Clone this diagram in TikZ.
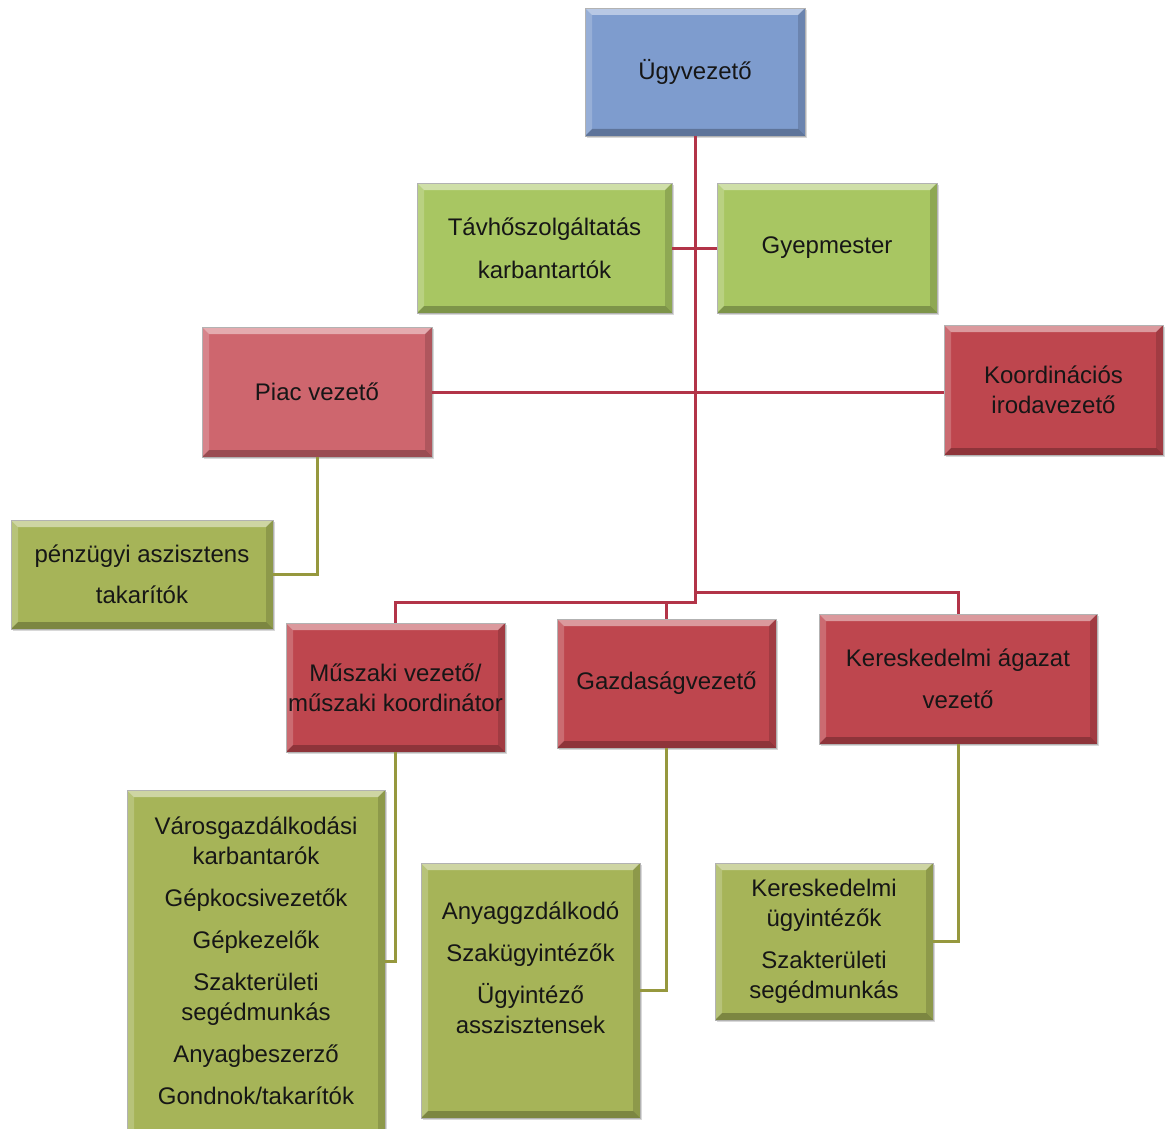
\documentclass[tikz,border=0pt]{standalone}
\usepackage{fontspec}
\setmainfont{Liberation Sans}
\usetikzlibrary{shadows}
\definecolor{cblue}{RGB}{126,156,206}
\definecolor{cgreen}{RGB}{168,198,98}
\definecolor{colive}{RGB}{166,180,88}
\definecolor{cpink}{RGB}{206,102,110}
\definecolor{cred}{RGB}{190,70,78}
\definecolor{lnred}{RGB}{178,52,72}
\definecolor{lnolive}{RGB}{150,152,62}
\definecolor{txt}{RGB}{22,22,22}
\tikzset{
  bevel/.style={path picture={
    \fill[white,opacity=.45] (path picture bounding box.north west) -- (path picture bounding box.north east)
      -- ([xshift=-7pt,yshift=-7pt]path picture bounding box.north east) -- ([xshift=7pt,yshift=-7pt]path picture bounding box.north west) -- cycle;
    \fill[white,opacity=.2] (path picture bounding box.north west) -- ([xshift=7pt,yshift=-7pt]path picture bounding box.north west)
      -- ([xshift=7pt,yshift=7pt]path picture bounding box.south west) -- (path picture bounding box.south west) -- cycle;
    \fill[black,opacity=.15] (path picture bounding box.north east) -- (path picture bounding box.south east)
      -- ([xshift=-7pt,yshift=7pt]path picture bounding box.south east) -- ([xshift=-7pt,yshift=-7pt]path picture bounding box.north east) -- cycle;
    \fill[black,opacity=.25] (path picture bounding box.south west) -- (path picture bounding box.south east)
      -- ([xshift=-7pt,yshift=7pt]path picture bounding box.south east) -- ([xshift=7pt,yshift=7pt]path picture bounding box.south west) -- cycle;
  }},
  box/.style={rectangle, fill=#1, draw=gray!60, line width=0.4pt, bevel, inner sep=0pt,
    drop shadow={shadow xshift=2pt,shadow yshift=-2pt,opacity=.3},
    text=txt, align=center, font=\fontsize{24}{30}\selectfont},
  txtnode/.style={text=txt, align=center, font=\fontsize{24}{30}\selectfont, inner sep=0pt},
  redline/.style={draw=lnred, line width=3pt},
  oliveline/.style={draw=lnolive, line width=3pt},
}
\begin{document}
\begin{tikzpicture}[x=1pt,y=-1pt]
\useasboundingbox[fill=white] (0,0) rectangle (1165,1129);
\coordinate (jA) at (695,592);
\coordinate (jB) at (695,602);
% boxes
\node[box=cblue, minimum width=220pt, minimum height=128pt] (ceo) at (695,72) {Ügyvezető};
\node[box=cgreen, minimum width=255pt, minimum height=130pt] (tav) at (544.5,248) {Távhőszolgáltatás\\[13pt]karbantartók};
\node[box=cgreen, minimum width=220pt, minimum height=130pt] (gyep) at (827,248) {Gyepmester};
\node[box=cpink, minimum width=230pt, minimum height=130pt] (piac) at (317,392) {Piac vezető};
\node[box=cred, minimum width=219pt, minimum height=130pt] (koord) at (1053.5,390) {Koordinációs\\irodavezető};
\node[box=colive, minimum width=262pt, minimum height=109pt] (penz) at (142,574.5) {pénzügyi aszisztens\\[11pt]takarítók};
\node[box=cred, minimum width=219pt, minimum height=129pt] (musz) at (395.5,687.5) {Műszaki vezető/\\műszaki koordinátor};
\node[box=cred, minimum width=219pt, minimum height=129pt] (gazd) at (666.5,683.5) {Gazdaságvezető};
\node[box=cred, minimum width=278pt, minimum height=130pt] (ker) at (958,679) {Kereskedelmi ágazat\\[12pt]vezető};
\node[box=colive, minimum width=258pt, minimum height=350pt] (varos) at (256,965) {};
\node[txtnode] (varostext) at (256,961) {Városgazdálkodási\\karbantarók\\[12pt]Gépkocsivezetők\\[12pt]Gépkezelők\\[12pt]Szakterületi\\segédmunkás\\[12pt]Anyagbeszerző\\[12pt]Gondnok/takarítók};
\node[box=colive, minimum width=219pt, minimum height=255pt] (anya) at (530.5,990.5) {};
\node[txtnode] (anyatext) at (530.5,968) {Anyaggzdálkodó\\[12pt]Szakügyintézők\\[12pt]Ügyintéző\\asszisztensek};
\node[box=colive, minimum width=218pt, minimum height=157pt] (keru) at (824,941.5) {Kereskedelmi\\ügyintézők\\[12pt]Szakterületi\\segédmunkás};
% red connectors
\draw[redline] (ceo.south) -- (jA);
\draw[redline] (tav.east) -- (gyep.west);
\draw[redline] (piac.east) -- (piac.east -| koord.west);
\draw[redline] (jA) -| (ker.north);
\draw[redline] (jA) -- (jB) -| (musz.north);
\draw[redline] (gazd.north |- jB) -- (gazd.north);
% olive connectors
\draw[oliveline] (piac.south) |- (penz.east);
\draw[oliveline] (musz.south) |- (varostext.east -| varos.east);
\draw[oliveline] (gazd.south) |- (anya.east);
\draw[oliveline] (ker.south) |- (keru.east);
\end{tikzpicture}
\end{document}
